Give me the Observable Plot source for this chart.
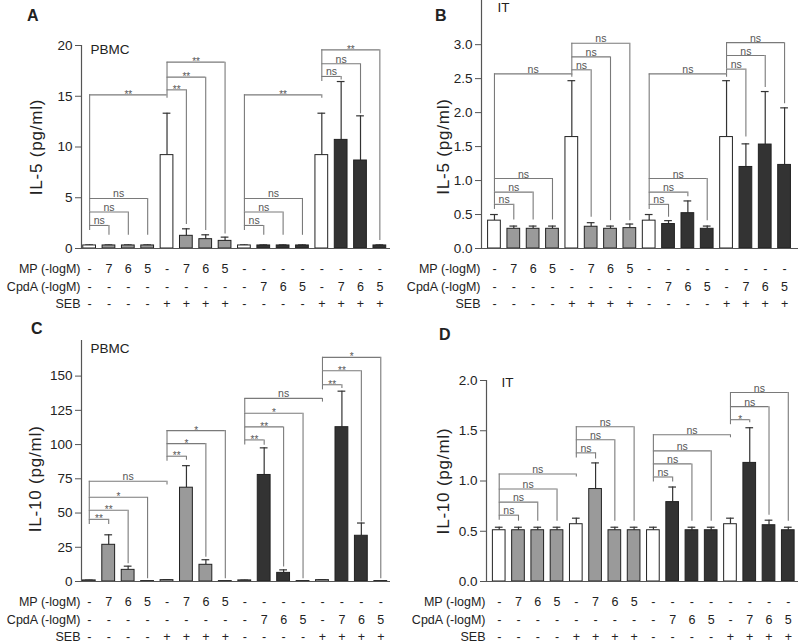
<!DOCTYPE html>
<html><head><meta charset="utf-8">
<script src="https://cdn.jsdelivr.net/npm/d3@7"></script>
<script src="https://cdn.jsdelivr.net/npm/@observablehq/plot@0.6"></script>
<style>
body{margin:0;background:#fff;}
#root{position:relative;width:798px;height:642px;font-family:"Liberation Sans",Arial,sans-serif;overflow:hidden;background:#fff}
.panel{position:absolute}
.letter{position:absolute;font-weight:bold;font-size:16px;line-height:1;color:#222}
svg text[transform*="rotate(-90)"]{letter-spacing:0.8px}
</style></head><body><div id="root"></div>
<script>
// ---- condition rows (16 bars) ----
const mpRow   = ["-","7","6","5","-","7","6","5","-","-","-","-","-","-","-","-"];
const cpdaRow = ["-","-","-","-","-","-","-","-","-","7","6","5","-","7","6","5"];
const sebRow  = ["-","-","-","-","+","+","+","+","-","-","-","-","+","+","+","+"];
const rowNames = ["MP (-logM)", "CpdA (-logM)", "SEB"];

// ---- Panel A: IL-5, PBMC ----
const meansA = [0.3,0.3,0.3,0.3,9.2,1.25,0.92,0.75,0.3,0.3,0.3,0.3,9.2,10.7,8.67,0.3];
const errsA  = [0.05,0.05,0.05,0.05,4.13,0.69,0.43,0.37,0.05,0.05,0.05,0.05,4.13,5.75,4.4,0.05];
const ticksA = [0,5,10,15,20];
const bracketsA = [
  {from:0,to:1,h:2.27,end:1.3,label:"ns"},{from:0,to:2,h:3.6,end:1.3,label:"ns"},
  {from:0,to:3,h:4.93,end:1.3,label:"ns"},{from:0,to:4,h:15.14,end:14.8,label:"**"},
  {from:4,to:5,h:15.63,end:2.36,label:"**"},{from:4,to:6,h:16.88,end:1.77,label:"**"},
  {from:4,to:7,h:18.36,end:1.44,label:"**"},
  {from:8,to:9,h:2.27,end:1.3,label:"ns"},{from:8,to:10,h:3.6,end:1.3,label:"ns"},
  {from:8,to:11,h:4.93,end:1.3,label:"ns"},{from:8,to:12,h:15.14,end:14.8,label:"**"},
  {from:12,to:13,h:16.95,end:16.6,label:"ns"},{from:12,to:14,h:18.2,end:13.27,label:"ns"},
  {from:12,to:15,h:19.57,end:0.79,label:"**"}
];

// ---- Panel B: IL-5, IT ----
const meansB = [0.41,0.29,0.29,0.29,1.64,0.32,0.29,0.30,0.41,0.36,0.52,0.29,1.64,1.20,1.53,1.23];
const errsB  = [0.09,0.04,0.04,0.04,0.83,0.06,0.04,0.06,0.09,0.05,0.18,0.04,0.83,0.34,0.78,0.84];
const ticksB = [0,0.5,1,1.5,2,2.5,3];
const bracketsB = [
  {from:0,to:1,h:0.65,end:0.42,label:"ns"},{from:0,to:2,h:0.83,end:0.42,label:"ns"},
  {from:0,to:3,h:1.03,end:0.42,label:"ns"},{from:0,to:4,h:2.57,end:2.52,label:"ns"},
  {from:4,to:5,h:2.63,end:0.46,label:"ns"},{from:4,to:6,h:2.82,end:0.41,label:"ns"},
  {from:4,to:7,h:3.02,end:0.41,label:"ns"},
  {from:8,to:9,h:0.65,end:0.46,label:"ns"},{from:8,to:10,h:0.83,end:0.76,label:"ns"},
  {from:8,to:11,h:1.03,end:0.41,label:"ns"},{from:8,to:12,h:2.57,end:2.52,label:"ns"},
  {from:12,to:13,h:2.64,end:1.64,label:"ns"},{from:12,to:14,h:2.84,end:2.37,label:"ns"},
  {from:12,to:15,h:3.03,end:2.13,label:"ns"}
];

// ---- Panel C: IL-10, PBMC ----
const meansC = [0.8,26.8,8.5,0.3,1.0,68.5,12.2,0.3,0.8,77.8,6.3,0.3,1.0,112.7,33.4,0.3];
const errsC  = [0.2,7.3,2.7,0,0.3,16.1,3.7,0,0.2,19.8,2.2,0,0.3,26.3,9.3,0];
const ticksC = [0,25,50,75,100,125,150];
const bracketsC = [
  {from:0,to:1,h:45.4,end:41.7,label:"**"},{from:0,to:2,h:52,end:12.9,label:"**"},
  {from:0,to:3,h:61.5,end:2,label:"*"},{from:0,to:4,h:73.2,end:70.5,label:"ns"},
  {from:4,to:5,h:91.5,end:88.5,label:"**"},{from:4,to:6,h:100.7,end:17.8,label:"*"},
  {from:4,to:7,h:110.2,end:2,label:"*"},
  {from:8,to:9,h:103.4,end:99.5,label:"**"},{from:8,to:10,h:112.9,end:10.5,label:"**"},
  {from:8,to:11,h:122.9,end:2,label:"*"},{from:8,to:12,h:133.7,end:131,label:"ns"},
  {from:12,to:13,h:143.7,end:141,label:"**"},{from:12,to:14,h:153.9,end:43.4,label:"**"},
  {from:12,to:15,h:163.7,end:2,label:"*"}
];

// ---- Panel D: IL-10, IT ----
const meansD = [0.51,0.51,0.51,0.51,0.57,0.92,0.51,0.51,0.51,0.79,0.51,0.51,0.57,1.18,0.56,0.51];
const errsD  = [0.03,0.03,0.03,0.03,0.06,0.26,0.03,0.03,0.03,0.15,0.03,0.03,0.06,0.35,0.05,0.03];
const ticksD = [0,0.5,1,1.5,2];
const bracketsD = [
  {from:0,to:1,h:0.66,end:0.6,label:"ns"},{from:0,to:2,h:0.79,end:0.6,label:"ns"},
  {from:0,to:3,h:0.92,end:0.6,label:"ns"},{from:0,to:4,h:1.07,end:1.04,label:"ns"},
  {from:4,to:5,h:1.28,end:1.22,label:"ns"},{from:4,to:6,h:1.41,end:0.6,label:"ns"},
  {from:4,to:7,h:1.54,end:0.6,label:"ns"},
  {from:8,to:9,h:1.04,end:0.99,label:"ns"},{from:8,to:10,h:1.17,end:0.6,label:"ns"},
  {from:8,to:11,h:1.30,end:0.6,label:"ns"},{from:8,to:12,h:1.46,end:1.43,label:"ns"},
  {from:12,to:13,h:1.61,end:1.58,label:"*"},{from:12,to:14,h:1.74,end:0.66,label:"ns"},
  {from:12,to:15,h:1.88,end:0.6,label:"ns"}
];

const barType = i => mpRow[i] !== "-" ? "MP" : cpdaRow[i] !== "-" ? "CpdA" : "ctrl";

function panel(cfg) {
  const {means, errs, brackets, ticks, fmt, yDomain, xDomain, yTitle, tag, tagDx, tagDy, titleOffset} = cfg;
  const x0 = xDomain[0];
  const bars = means.map((v, i) => ({i, v, e: errs[i], top: v + errs[i], type: barType(i)}));
  const small = ticks[ticks.length - 1] * 0.025;
  const br = brackets.map(b => {
    const lower = brackets.filter(o => o.from === b.from && o.h < b.h).map(o => o.h);
    return {...b, x1: b.from + 0.5, x2: b.to + 0.5, lb: lower.length ? d3.max(lower) : b.h - small};
  });
  const rows = [mpRow, cpdaRow, sebRow];
  const rowDy = [20, 38, 55];
  const lineColor = "#7a7a7a";
  const marks = [
    // brackets
    Plot.ruleY(br, {x1: "x1", x2: "x2", y: "h", stroke: lineColor, strokeWidth: 1.1}),
    Plot.ruleX(br, {x: "x2", y1: "end", y2: "h", stroke: lineColor, strokeWidth: 1.1}),
    Plot.ruleX(br, {x: "x1", y1: "lb", y2: "h", stroke: lineColor, strokeWidth: 1.1}),
    Plot.text(br.filter(d => d.label === "ns"), {x: d => (d.x1 + d.x2) / 2, y: "h", text: "label", lineAnchor: "bottom", dy: -1, fontSize: 10.5, fill: "#555"}),
    Plot.text(br.filter(d => d.label !== "ns"), {x: d => (d.x1 + d.x2) / 2, y: "h", text: "label", lineAnchor: "bottom", dy: 3, fontSize: 10, fill: "#555"}),
    // error bars
    Plot.ruleX(bars.filter(d => d.e > 0), {x: d => d.i + 0.5, y1: "v", y2: "top", stroke: "#333", strokeWidth: 1.2}),
    Plot.ruleY(bars.filter(d => d.e > 0), {x1: d => d.i + 0.3, x2: d => d.i + 0.7, y: "top", stroke: "#333", strokeWidth: 1.2}),
    // bars
    Plot.rectY(bars, {x1: d => d.i, x2: d => d.i + 1, y: "v", fill: "type", stroke: "#222", strokeWidth: 1, insetLeft: 3.3, insetRight: 3.3}),
    // axes
    Plot.ruleY([0], {x1: xDomain[0], x2: xDomain[1], stroke: "#555", strokeWidth: 1.2}),
    Plot.ruleX([x0], {y1: yDomain[0], y2: yDomain[1], stroke: "#555", strokeWidth: 1.2}),
    Plot.axisY({ticks, tickFormat: fmt, tickSize: 6, tickPadding: 3, label: null, fontSize: 13.5, stroke: "#555"}),
    Plot.text([yTitle], {x: () => x0, y: () => ticks[ticks.length - 1] / 2, rotate: -90, dx: -titleOffset, fontSize: 17, fill: "#222"}),
    Plot.text([tag], {frameAnchor: "top-left", dx: tagDx, dy: tagDy, lineAnchor: "middle", textAnchor: "start", fontSize: 13.5, fill: "#222"}),
  ];
  rows.forEach((row, k) => {
    marks.push(Plot.text(row.map((t, i) => ({t, i})), {x: d => d.i + 0.5, text: "t", frameAnchor: "bottom", lineAnchor: "middle", dy: rowDy[k], fontSize: 12.5, fill: "#222"}));
    marks.push(Plot.text([rowNames[k]], {x: () => x0, frameAnchor: "bottom", lineAnchor: "middle", textAnchor: "end", dx: -1, dy: rowDy[k], fontSize: 12.5, fill: "#222"}));
  });
  return Plot.plot({
    width: cfg.width, height: cfg.height,
    marginLeft: cfg.ml, marginRight: cfg.mr, marginTop: cfg.mt, marginBottom: cfg.mb,
    x: {domain: xDomain, axis: null},
    y: {domain: yDomain, axis: null},
    color: {domain: ["ctrl", "MP", "CpdA"], range: ["#ffffff", "#9a9a9a", "#333333"]},
    style: {fontFamily: "'Liberation Sans', Arial, sans-serif", background: "transparent", overflow: "visible", color: "#222"},
    marks
  });
}

const root = document.getElementById("root");
function place(el, left, top) { el.classList.add("panel"); el.style.left = left + "px"; el.style.top = top + "px"; root.appendChild(el); }
function letter(t, left, top) { const d = document.createElement("div"); d.className = "letter"; d.textContent = t; d.style.left = left + "px"; d.style.top = top + "px"; root.appendChild(d); }

const f0 = d3.format("d"), f1 = d3.format(".1f");
place(panel({means: meansA, errs: errsA, brackets: bracketsA, ticks: ticksA, fmt: f0, yDomain: [0, 20], xDomain: [0.08, 16.05],
  yTitle: "IL-5 (pg/ml)", tag: "PBMC", tagDx: 9, tagDy: 4, titleOffset: 45,
  width: 399, height: 320, ml: 81, mr: 9, mt: 45, mb: 72}), 0, 0);
place(panel({means: meansB, errs: errsB, brackets: bracketsB, ticks: ticksB, fmt: f1, yDomain: [0, 3.65], xDomain: [-0.17, 16.22],
  yTitle: "IL-5 (pg/ml)", tag: "IT", tagDx: 16, tagDy: 7, titleOffset: 38,
  width: 399, height: 320, ml: 82, mr: 0, mt: 0, mb: 72}), 399, 0);
place(panel({means: meansC, errs: errsC, brackets: bracketsC, ticks: ticksC, fmt: f0, yDomain: [0, 176], xDomain: [0.1, 16.0],
  yTitle: "IL-10 (pg/ml)", tag: "PBMC", tagDx: 9, tagDy: 8, titleOffset: 46,
  width: 399, height: 322, ml: 81, mr: 9, mt: 20, mb: 61}), 0, 320);
place(panel({means: meansD, errs: errsD, brackets: bracketsD, ticks: ticksD, fmt: f1, yDomain: [0, 2], xDomain: [-0.16, 16.03],
  yTitle: "IL-10 (pg/ml)", tag: "IT", tagDx: 15, tagDy: 2, titleOffset: 43,
  width: 399, height: 322, ml: 87, mr: 0, mt: 60, mb: 61}), 399, 320);

letter("A", 27, 8); letter("B", 435, 8); letter("C", 31, 321); letter("D", 439, 327);
</script></body></html>
